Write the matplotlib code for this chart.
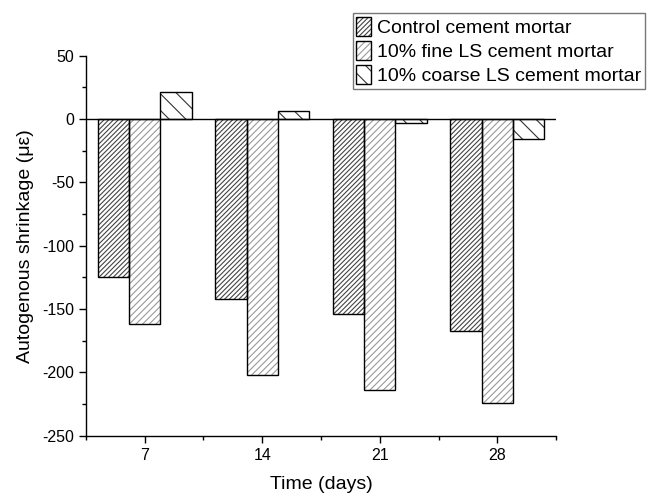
import numpy as np
import matplotlib.pyplot as plt
from matplotlib.patches import Patch
from matplotlib.legend_handler import HandlerTuple
from matplotlib.ticker import MultipleLocator, FixedLocator

plt.rcParams['font.family'] = ['Liberation Sans', 'DejaVu Sans']
plt.rcParams['hatch.linewidth'] = 0.8
plt.rcParams['axes.unicode_minus'] = False

# autogenous shrinkage readings (microstrain)
days = [7, 14, 21, 28]
control = [-125, -142, -154, -167]
fine_ls = [-162, -202, -214, -224]
coarse_ls = [21, 6, -3, -16]

labels = ['Control cement mortar', '10% fine LS cement mortar',
          '10% coarse LS cement mortar']
hatches = ['///////', '/////', '\\\\']
hatch_cols = ['#444444', '#9a9a9a', '#333333']

fig = plt.figure(figsize=(6.5, 4.97), dpi=100)
ax = fig.add_axes([0.1323, 0.1233, 0.7231, 0.7647])

x = np.array(days, dtype=float)
w = 1.87
handles = []
for i, vals in enumerate([control, fine_ls, coarse_ls]):
    pos = x + (i - 1) * w
    ax.bar(pos, vals, w, color='white', edgecolor=hatch_cols[i],
           hatch=hatches[i], linewidth=0, zorder=2)
    ax.bar(pos, vals, w, fill=False, edgecolor='black', linewidth=1.0, zorder=3)
    handles.append((Patch(facecolor='white', edgecolor=hatch_cols[i],
                          hatch=hatches[i], linewidth=0),
                    Patch(fill=False, edgecolor='black', linewidth=1.0)))

ax.axhline(0, color='black', linewidth=1.0, zorder=4)

ax.set_xlim(3.5, 31.5)
ax.set_ylim(-250, 50)
ax.set_xticks(days)
ax.xaxis.set_minor_locator(FixedLocator([3.5, 10.5, 17.5, 24.5, 31.5]))
ax.yaxis.set_major_locator(MultipleLocator(50))
ax.yaxis.set_minor_locator(MultipleLocator(25))
ax.tick_params(which='major', direction='out', length=5, width=1, labelsize=11.5)
ax.tick_params(which='minor', direction='out', length=3, width=1)

for s in ['top', 'right']:
    ax.spines[s].set_visible(False)
for s in ['left', 'bottom']:
    ax.spines[s].set_linewidth(1.0)

ax.set_xlabel('Time (days)', fontsize=14, labelpad=10)
ax.set_ylabel('Autogenous shrinkage (με)', fontsize=14, labelpad=6)

leg = fig.legend(handles, labels, loc='upper right',
                 bbox_to_anchor=(645 / 650, 1 - 13 / 497),
                 handler_map={tuple: HandlerTuple(ndivide=1)},
                 fontsize=14, frameon=True, fancybox=False,
                 handlelength=0.75, handleheight=1.1, handletextpad=0.3,
                 borderpad=0.2, labelspacing=0.22, borderaxespad=0)
leg.get_frame().set_edgecolor('#555555')
leg.get_frame().set_linewidth(1.0)

fig.savefig('out.png', dpi=100)
